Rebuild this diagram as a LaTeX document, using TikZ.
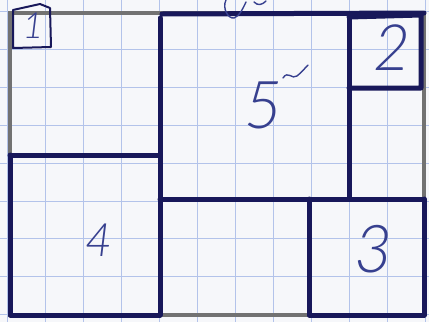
\documentclass[tikz,border=0pt]{standalone}
\usepackage{fontspec}
\newfontfamily\hand{Lato Light}[ItalicFont={Lato Light Italic}]
\definecolor{ink}{HTML}{18185A}
\definecolor{inklabel}{HTML}{37408F}
\definecolor{pencil}{HTML}{727272}
\definecolor{gridblue}{HTML}{B3C3EA}
\definecolor{paper}{HTML}{F6F7FA}
\tikzset{
  penline/.style={draw=ink, line width=5pt, line cap=round, line join=round},
  pencilline/.style={draw=pencil, line width=3.6pt, line cap=round},
  thinpen/.style={draw=ink, line width=2pt, line join=round},
  digit/.style={text=inklabel, inner sep=0pt, font=\hand\itshape\fontsize{#1}{#1}\selectfont},
}
\begin{document}
\begin{tikzpicture}[x=1pt,y=-1pt]
\useasboundingbox (0,0) rectangle (429,322);
\fill[paper] (0,0) rectangle (429,322);
% graph paper grid
\foreach \gx in {7,45,83,121,159,197,235,273,311,349,387,425}
  \draw[gridblue, line width=0.8pt] (\gx,0) -- (\gx,322);
\foreach \gy in {11,49,87,125,163,201,238,276,314}
  \draw[gridblue, line width=0.8pt] (0,\gy) -- (429,\gy);
% pencil outline of the whole plan
\coordinate (otl) at (10,13);
\coordinate (otr) at (424,13);
\coordinate (obr) at (424,315);
\coordinate (obl) at (10,315);
\draw[pencilline] (otl) -- (otr) -- (obr) -- (obl) -- cycle;
% ink walls
\coordinate (tmid) at (162,14);
\coordinate (vtop) at (160,18);
\coordinate (vbot) at (160,315);
\coordinate (h4l) at (10,155);
\coordinate (h4r) at (160,155);
\coordinate (hml) at (160,199);
\coordinate (hmr) at (424,199);
\coordinate (v2top) at (349,16);
\coordinate (v2bot) at (349,199);
\draw[penline] (tmid) -- (otr);
\draw[penline] (vtop) -- (vbot);
\draw[penline] (h4l) -- (h4r);
\draw[penline] (h4l) -- (obl) -- (vbot);
\draw[penline] (hml) -- (hmr);
\draw[penline] (v2top) -- (v2bot);
% room 2
\draw[penline] (349,17) -- (421,15) -- (421,88) -- (349,88);
% room 3
\draw[penline] (309,199) -- (309,315) -- (424,315) -- (424,199);
% room 1 small box
\draw[thinpen] (13,10) -- (40,4) -- (50,8) -- (51,47) -- (13,48) -- cycle;
% labels
\node[digit=36] (n1) at (33,26) {1};
\node[digit=64] (n2) at (392,48) {2};
\node[digit=66] (n3) at (374,249) {3};
\node[digit=46] (n4) at (99,240) {4};
\node[digit=66] (n5) at (264,105) {5};
\draw[draw=inklabel, line width=1.4pt, line cap=round] (283,78) .. controls (288,70) and (292,80) .. (297,76) .. controls (302,72) and (305,68) .. (308,65);
% scribble cut off at the top edge
\draw[draw=inklabel, line width=1.4pt, line cap=round] (226,0) .. controls (222,8) and (228,19) .. (234,18) .. controls (240,16) and (243,8) .. (246,2);
\draw[draw=inklabel, line width=1.4pt, line cap=round] (254,2) .. controls (258,6) and (262,5) .. (266,1);
\end{tikzpicture}
\end{document}
